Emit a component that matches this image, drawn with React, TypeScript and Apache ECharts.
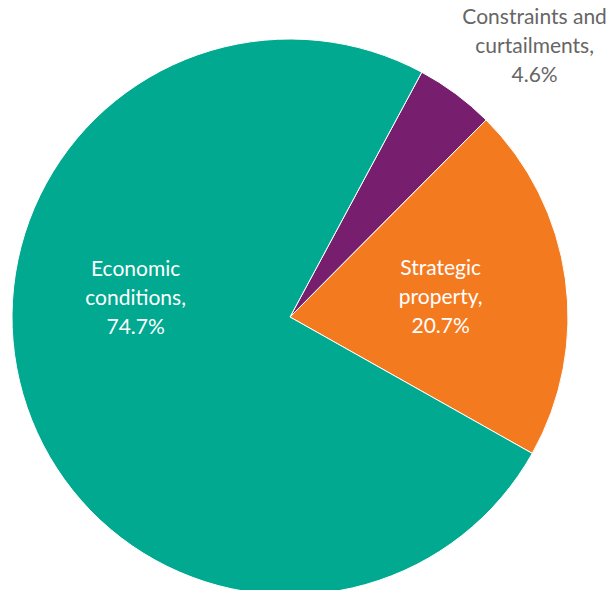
import React, { useEffect, useRef } from "react";
import * as echarts from "echarts";

const categories = ["Constraints and curtailments", "Strategic property", "Economic conditions"];
const values = [4.6, 20.7, 74.7];
const colors = ["#781E6E", "#F47A20", "#00A98F"];
const labelColors = ["#666666", "#FFFFFF", "#FFFFFF"];
const labelShifts = [
  [160, -158],
  [10, -2],
  [-18, -60],
];

function breakName(name: string): string {
  const i = name.lastIndexOf(" ");
  return i > 0 ? name.slice(0, i) + "\n" + name.slice(i + 1) : name;
}

export default function App() {
  const ref = useRef<HTMLDivElement>(null);
  useEffect(() => {
    document.body.style.margin = "0";
    const chart = echarts.init(ref.current!, undefined, { renderer: "svg" });
    chart.setOption({
      animation: false,
      backgroundColor: "#FFFFFF",
      series: [
        {
          type: "pie",
          center: [290, 317],
          radius: [0, 278],
          startAngle: 61.7,
          clockwise: true,
          avoidLabelOverlap: false,
          itemStyle: { borderColor: "#FFFFFF", borderWidth: 1 },
          labelLine: { show: false },
          label: {
            position: "inside",
            fontFamily: "Lato, 'Open Sans', sans-serif",
            fontSize: 21,
            lineHeight: 29,
            align: "center",
            formatter: (p: any) => breakName(p.name) + ",\n" + Number(p.value).toFixed(1) + "%",
          },
          labelLayout: (p: any) => ({ dx: labelShifts[p.dataIndex][0], dy: labelShifts[p.dataIndex][1] }),
          data: categories.map((name, i) => ({
            name,
            value: values[i],
            itemStyle: { color: colors[i] },
            label: { color: labelColors[i] },
          })),
        },
      ],
    });
    return () => chart.dispose();
  }, []);
  return <div ref={ref} style={{ width: 613, height: 590 }} />;
}
